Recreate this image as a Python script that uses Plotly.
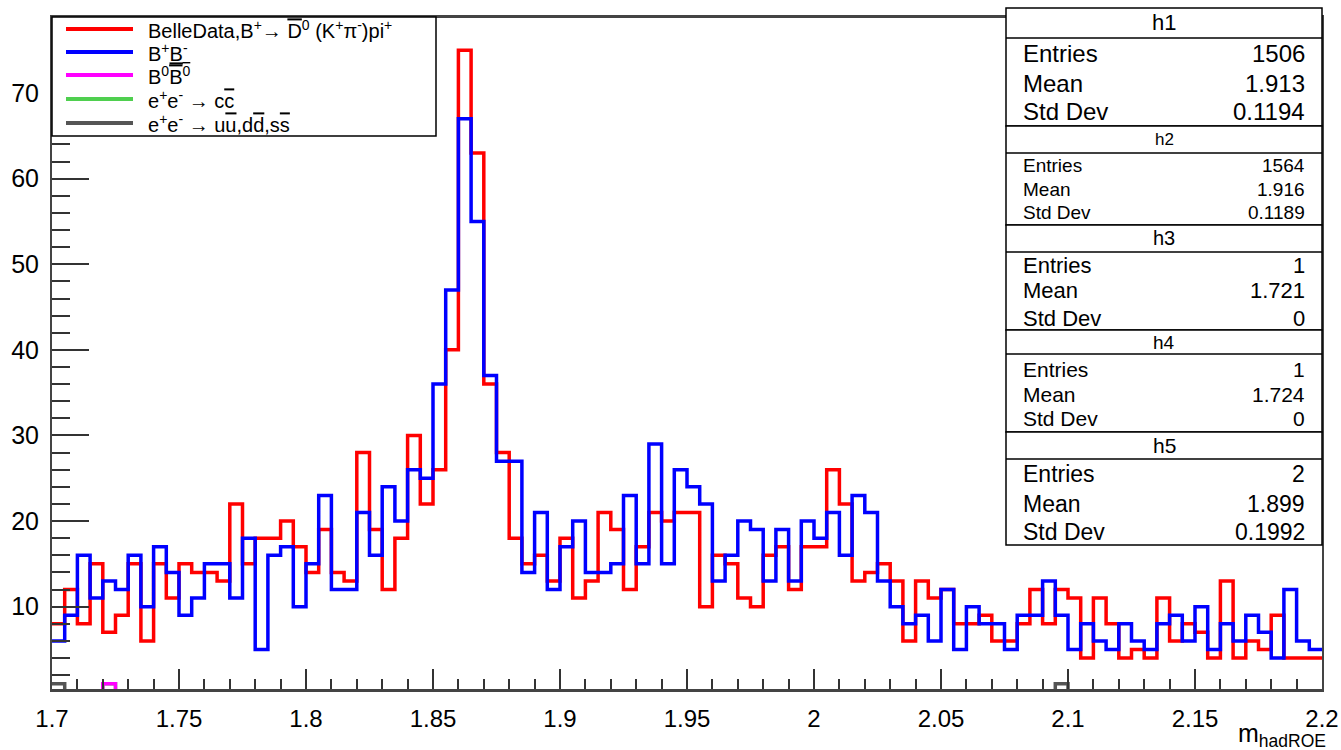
import numpy as np
import plotly.graph_objects as go

# binning of m_hadROE
x_lo, x_hi, n_bins = 1.7, 2.2, 100

# h1: Belle data, B+ -> D0bar(K+ pi-) pi+
belle_data = [8, 12, 8, 15, 7, 9, 15, 6, 15, 11,
              15, 14, 14, 13, 22, 15, 18, 18, 20, 17,
              14, 19, 14, 13, 28, 19, 12, 18, 30, 22,
              26, 40, 75, 63, 36, 28, 18, 15, 16, 13,
              18, 11, 13, 21, 19, 12, 17, 21, 20, 21,
              21, 10, 16, 15, 11, 10, 16, 17, 12, 17,
              17, 26, 22, 13, 14, 15, 13, 6, 13, 11,
              12, 8, 8, 9, 6, 6, 8, 12, 8, 12,
              11, 4, 11, 8, 4, 5, 4, 11, 6, 8,
              7, 4, 13, 4, 6, 5, 9, 4, 4, 4]

# h2: B+B- MC
mc_charged = [6, 9, 16, 11, 13, 12, 16, 10, 17, 14,
              9, 11, 15, 15, 11, 18, 5, 16, 17, 10,
              15, 23, 12, 12, 21, 16, 24, 20, 26, 25,
              36, 47, 67, 55, 37, 27, 27, 14, 21, 12,
              17, 20, 14, 14, 15, 23, 15, 29, 15, 26,
              24, 22, 13, 16, 20, 19, 13, 19, 13, 20,
              18, 21, 16, 23, 21, 13, 10, 8, 9, 6,
              12, 5, 10, 8, 8, 5, 9, 9, 13, 9,
              5, 8, 6, 5, 8, 6, 5, 8, 9, 6,
              10, 5, 8, 6, 9, 7, 4, 12, 6, 5]

# h3, h4, h5 only have a handful of entries
mc_mixed_vals = [1.721]
mc_ccbar_vals = [1.724]
mc_uds_vals = [1.7003, 2.0977]

legend_names = [
    'BelleData,B<sup>+</sup>\u2192 <span style="text-decoration:overline">D</span><sup>0</sup> (K<sup>+</sup>\u03c0<sup>-</sup>)pi<sup>+</sup>',
    'B<sup>+</sup><u>B</u><sup>-</sup>',
    'B<sup>0</sup><span style="text-decoration:overline">B<sup>0</sup></span>',
    'e<sup>+</sup>e<sup>-</sup> \u2192 c<span style="text-decoration:overline">c</span>',
    'e<sup>+</sup>e<sup>-</sup> \u2192 u<span style="text-decoration:overline">u</span>,d<span style="text-decoration:overline">d</span>,s<span style="text-decoration:overline">s</span>',
]
legend_colors = ["#ff0000", "#0000ff", "#ff00ff", "#4fcf4f", "#555555"]

stat_names = ["h1", "h2", "h3", "h4", "h5"]
stat_entries = ["1506", "1564", "1", "1", "2"]
stat_means = ["1.913", "1.916", "1.721", "1.724", "1.899"]
stat_stds = ["0.1194", "0.1189", "0", "0", "0.1992"]

FONT = "Liberation Sans, Arial, Helvetica, sans-serif"

# plot frame in pixels
L, R, T, B = 52, 1322, 18, 689


def px(x):
    return (x - L) / (R - L)


def py(y):
    return (B - y) / (B - T)


edges = np.linspace(x_lo, x_hi, n_bins + 1)


def step_trace(counts, color, width=3.5):
    counts = np.asarray(counts, dtype=float)
    return go.Scatter(x=edges, y=np.append(counts, counts[-1]), mode="lines",
                      line=dict(color=color, width=width, shape="hv"),
                      showlegend=False, hoverinfo="skip")


h3, _ = np.histogram(mc_mixed_vals, bins=edges)
h4, _ = np.histogram(mc_ccbar_vals, bins=edges)
h5, _ = np.histogram(mc_uds_vals, bins=edges)

fig = go.Figure()
fig.add_trace(step_trace(belle_data, legend_colors[0]))
fig.add_trace(step_trace(mc_charged, legend_colors[1]))
fig.add_trace(step_trace(h4, legend_colors[3]))
fig.add_trace(step_trace(h3, legend_colors[2]))
fig.add_trace(step_trace(h5, legend_colors[4]))

shapes = []
annots = []

# legend box
shapes.append(dict(type="rect", xref="paper", yref="paper", x0=px(52), x1=px(436), y0=py(136), y1=py(17),
                   line=dict(color="black", width=1.5), fillcolor="white", layer="above"))
leg_rows = [29, 52, 75, 99, 123]
for name, col, yy in zip(legend_names, legend_colors, leg_rows):
    shapes.append(dict(type="line", xref="paper", yref="paper", x0=px(66), x1=px(133), y0=py(yy), y1=py(yy),
                       line=dict(color=col, width=4), layer="above"))
    annots.append(dict(xref="paper", yref="paper", x=px(146), y=py(yy), text=name, showarrow=False,
                       xanchor="left", yanchor="middle", font=dict(size=20, family=FONT, color="black")))

# stats boxes
box_top = [8, 126, 225, 330, 432]
box_bot = [126, 225, 330, 432, 545]
title_h = [30, 27, 27, 24, 27]
row_y = [[54, 83, 112], [165, 189, 213], [265, 291, 318], [369, 394, 419], [474, 504, 532]]
row_size = [24, 19, 22, 21, 23]
for i in range(len(stat_names)):
    shapes.append(dict(type="rect", xref="paper", yref="paper", x0=px(1006), x1=px(1322),
                       y0=py(box_bot[i]), y1=py(box_top[i]),
                       line=dict(color="black", width=1.5), fillcolor="white", layer="above"))
    sep = box_top[i] + title_h[i]
    shapes.append(dict(type="line", xref="paper", yref="paper", x0=px(1006), x1=px(1322),
                       y0=py(sep), y1=py(sep), line=dict(color="black", width=1.5), layer="above"))
    annots.append(dict(xref="paper", yref="paper", x=px(1164), y=py(box_top[i] + title_h[i] / 2),
                       text=stat_names[i], showarrow=False, xanchor="center", yanchor="middle",
                       font=dict(size=row_size[i] - 2, family=FONT, color="black")))
    labels = ["Entries", "Mean", "Std Dev"]
    values = [stat_entries[i], stat_means[i], stat_stds[i]]
    for lab, val, yy in zip(labels, values, row_y[i]):
        annots.append(dict(xref="paper", yref="paper", x=px(1021), y=py(yy), text=lab, showarrow=False,
                           xanchor="left", yanchor="middle",
                           font=dict(size=row_size[i], family=FONT, color="black")))
        annots.append(dict(xref="paper", yref="paper", x=px(1307), y=py(yy), text=val, showarrow=False,
                           xanchor="right", yanchor="middle",
                           font=dict(size=row_size[i], family=FONT, color="black")))

# x axis title
annots.append(dict(xref="paper", yref="paper", x=px(1328), y=py(735), text="m<sub>hadROE</sub>",
                   showarrow=False, xanchor="right", yanchor="middle",
                   font=dict(size=25, family=FONT, color="black")))

fig.update_layout(
    width=1341, height=750,
    margin=dict(l=L, r=1341 - R, t=T, b=750 - B, autoexpand=False),
    plot_bgcolor="white", paper_bgcolor="white",
    shapes=shapes, annotations=annots,
    showlegend=False,
)
fig.update_xaxes(range=[x_lo, x_hi], tick0=1.7, dtick=0.05, ticks="inside", ticklen=20, tickwidth=1.5,
                 tickcolor="#333", minor=dict(dtick=0.01, ticks="inside", ticklen=10, tickwidth=1.5, tickcolor="#333"),
                 showline=True, linecolor="#444", linewidth=2.5, mirror=True, showgrid=False, zeroline=False,
                 automargin=False, tickfont=dict(size=24, family=FONT, color="black"), ticklabelstandoff=6)
fig.update_yaxes(range=[0.38, 78.77], tick0=0, dtick=10, ticks="inside", ticklen=37, tickwidth=1.5,
                 tickcolor="#333", minor=dict(dtick=2, ticks="inside", ticklen=18, tickwidth=1.5, tickcolor="#333"),
                 showline=True, linecolor="#444", linewidth=2, mirror=True, showgrid=False, zeroline=False,
                 automargin=False, tickfont=dict(size=25, family=FONT, color="black"), ticklabelstandoff=6)

# page has a default body margin; drop it so the figure sits at the window corner
fig.write_html("out.html", config={"displayModeBar": False},
               post_script="document.body.style.margin='0';")
